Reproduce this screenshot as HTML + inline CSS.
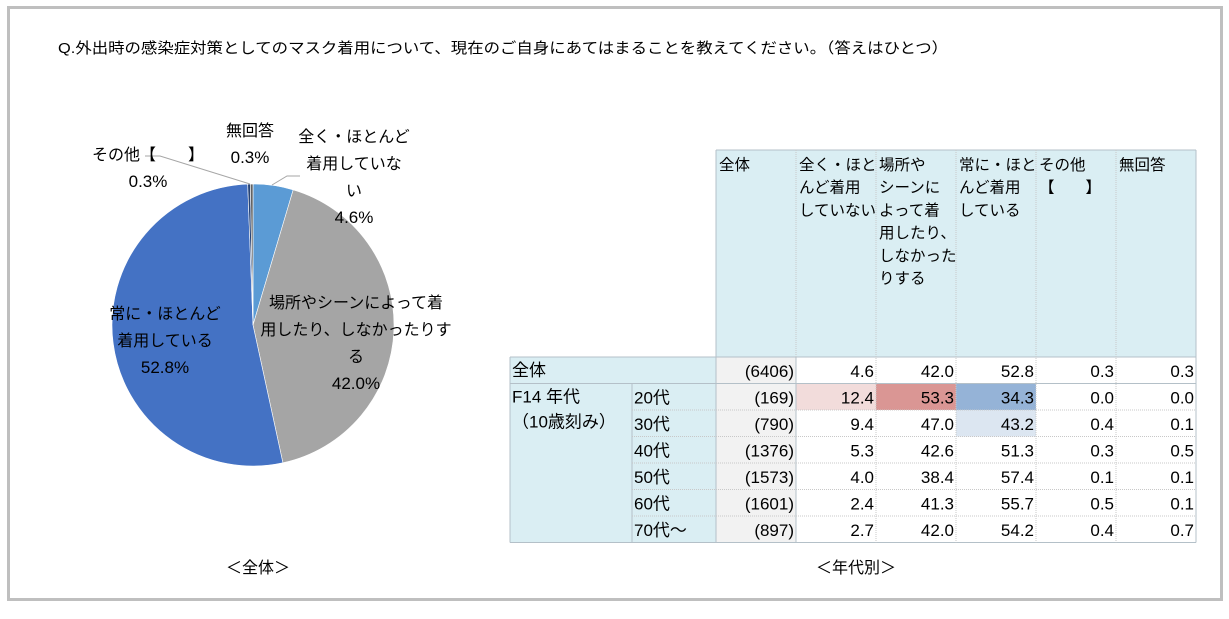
<!DOCTYPE html>
<html><head><meta charset="utf-8"><style>
body{margin:0;background:#fff;font-family:"Liberation Sans","Noto Sans CJK JP",sans-serif}
svg text{font-family:"Liberation Sans","Noto Sans CJK JP",sans-serif}
</style></head><body>
<svg id="c" width="1229" height="614" xmlns="http://www.w3.org/2000/svg">
<rect x="8.5" y="7.5" width="1213" height="592" fill="#fff" stroke="#BFBFBF" stroke-width="3"/>
<text x="58" y="53" font-size="15" textLength="890" lengthAdjust="spacingAndGlyphs" fill="#000">Q.外出時の感染症対策としてのマスク着用について、現在のご自身にあてはまることを教えてください。（答えはひとつ）</text>
<g id="pie"></g>
<g id="tbl"></g>
<text x="258" y="573" font-size="16" text-anchor="middle">＜全体＞</text>
<text x="856" y="573" font-size="16" text-anchor="middle">＜年代別＞</text>
</svg>
<script>
const sliceNames=["全く・ほとんど着用していない","場所やシーンによって着用したり、しなかったりする","常に・ほとんど着用している","その他【　　】","無回答"];
const sliceValues=[4.6,42.0,52.8,0.3,0.3];
const sliceColors=["#5B9BD5","#A5A5A5","#4472C4","#264478","#636363"];
const colHeaders=["全体","全く・ほと\nんど着用\nしていない","場所や\nシーンに\nよって着\n用したり、\nしなかった\nりする","常に・ほと\nんど着用\nしている","その他\n【　　】","無回答"];
const rowLabels=["20代","30代","40代","50代","60代","70代～"];
const totalN="(6406)";
const totalVals=[4.6,42.0,52.8,0.3,0.3];
const rowN=["(169)","(790)","(1376)","(1573)","(1601)","(897)"];
const rowVals=[[12.4,53.3,34.3,0.0,0.0],[9.4,47.0,43.2,0.4,0.1],[5.3,42.6,51.3,0.3,0.5],[4.0,38.4,57.4,0.1,0.1],[2.4,41.3,55.7,0.5,0.1],[2.7,42.0,54.2,0.4,0.7]];
const NS="http://www.w3.org/2000/svg";
function mk(tag,attrs,parent){const e=document.createElementNS(NS,tag);for(const k in attrs)e.setAttribute(k,attrs[k]);parent.appendChild(e);return e;}
const pie=document.getElementById('pie');
const cx=253,cy=325,r=141;
const tot=sliceValues.reduce((a,b)=>a+b,0);
let a0=0;
sliceValues.forEach((v,i)=>{
  const a1=a0+v/tot*2*Math.PI;
  const x0=cx+r*Math.sin(a0),y0=cy-r*Math.cos(a0),x1=cx+r*Math.sin(a1),y1=cy-r*Math.cos(a1);
  const p=mk('path',{d:`M${cx},${cy}L${x0},${y0}A${r},${r} 0 ${a1-a0>Math.PI?1:0} 1 ${x1},${y1}Z`,fill:sliceColors[i],stroke:'#fff','stroke-width':'0.6'},pie);
  
  
  a0=a1;
});
mk('path',{d:'M272,185 L287,176 L300,176',stroke:'#A6A6A6',fill:'none','stroke-width':'1'},pie);
mk('path',{d:'M250,184 L160,156 L145,156',stroke:'#A6A6A6',fill:'none','stroke-width':'1'},pie);
function lbl(lines,x,y,name){const t=mk('text',{x:x,y:y,'font-size':'16','text-anchor':'middle'},pie);lines.forEach((s,k)=>{const ts=mk('tspan',{x:x,dy:k?27:0},t);if(/%$/.test(s))ts.setAttribute('font-size','17');ts.textContent=s;});}
lbl(["全く・ほとんど","着用していな","い",sliceValues[0].toFixed(1)+"%"],354,142,'label-not-wearing');
lbl(["場所やシーンによって着","用したり、しなかったりす","る",sliceValues[1].toFixed(1)+"%"],356,308,'label-sometimes');
lbl(["常に・ほとんど","着用している",sliceValues[2].toFixed(1)+"%"],165,319,'label-always');
lbl(["その他【　　】",sliceValues[3].toFixed(1)+"%"],148,160,'label-other');
lbl(["無回答",sliceValues[4].toFixed(1)+"%"],250,136,'label-no-answer');
const tb=document.getElementById('tbl');
const cols=[716,796,876,956,1036,1116,1196];
const hTop=150,hBot=357,rh=26.5;
mk('rect',{x:716,y:hTop,width:480,height:hBot-hTop,fill:'#DAEEF3'},tb);
mk('rect',{x:510,y:hBot,width:206,height:rh,fill:'#DAEEF3'},tb);
mk('rect',{x:510,y:hBot+rh,width:206,height:rh*6,fill:'#DAEEF3'},tb);
mk('rect',{x:716,y:hBot,width:80,height:rh*7,fill:'#F2F2F2'},tb);
function fillFor(v,c,ri){ if(ri===0&&c===0)return'#F2DCDB'; if(ri===0&&c===1)return'#DA9694'; if(ri===0&&c===2)return'#95B3D7'; if(ri===1&&c===2)return'#DCE6F1'; return null;}
colHeaders.forEach((h,i)=>{const t=mk('text',{x:cols[i]+3,y:hTop+20,'font-size':'15.5'},tb);h.split('\n').forEach((s,k)=>{const ts=mk('tspan',{x:cols[i]+3,dy:k?22.7:0},t);ts.textContent=s;});});
function cell(txt,x,y,anchor,name){const t=mk('text',{x:x,y:y,'font-size':'17','text-anchor':anchor},tb);t.textContent=txt;}
cell("全体",512,hBot+19,'start','row-total-label');
cell(totalN,794,hBot+20,'end','total-n');
totalVals.forEach((v,c)=>cell(v.toFixed(1),cols[c+2]-2,hBot+20,'end','total-val-'+c));
cell("F14 年代",512,hBot+rh+19,'start','group-label');
cell("（10歳刻み）",512,hBot+rh+44,'start','group-sublabel');
rowLabels.forEach((lab,ri)=>{
  const y=hBot+rh*(ri+1);
  rowVals[ri].forEach((v,c)=>{const f=fillFor(v,c,ri);if(f){const rr=mk('rect',{x:cols[c+1],y:y,width:80,height:rh,fill:f},tb);}});
  cell(lab,634,y+20,'start','row-label-'+ri);
  cell(rowN[ri],794,y+20,'end','row-n-'+ri);
  rowVals[ri].forEach((v,c)=>cell(v.toFixed(1),cols[c+2]-2,y+20,'end','row'+ri+'-val-'+c));
});
const ln=(x1,y1,x2,y2,dash)=>mk('line',{x1,y1,x2,y2,stroke:dash?'#C8C8C8':'#B4C0C8','stroke-width':'1','stroke-dasharray':dash?'1,1':'none'},tb);
ln(716,hTop,1196,hTop);ln(716,hTop,716,hBot+rh*7);ln(1196,hTop,1196,hBot+rh*7);
ln(510,hBot,1196,hBot);ln(510,hBot+rh,1196,hBot+rh);ln(510,hBot+rh*7,1196,hBot+rh*7);
ln(510,hBot,510,hBot+rh*7);ln(632,hBot+rh,632,hBot+rh*7);ln(796,hBot,796,hBot+rh*7);
for(let i=2;i<6;i++)ln(cols[i],hTop,cols[i],hBot+rh*7,true);
ln(796,hTop,796,hBot,true);
for(let k=2;k<7;k++)ln(632,hBot+rh*k,1196,hBot+rh*k,true);
</script>
</body></html>
